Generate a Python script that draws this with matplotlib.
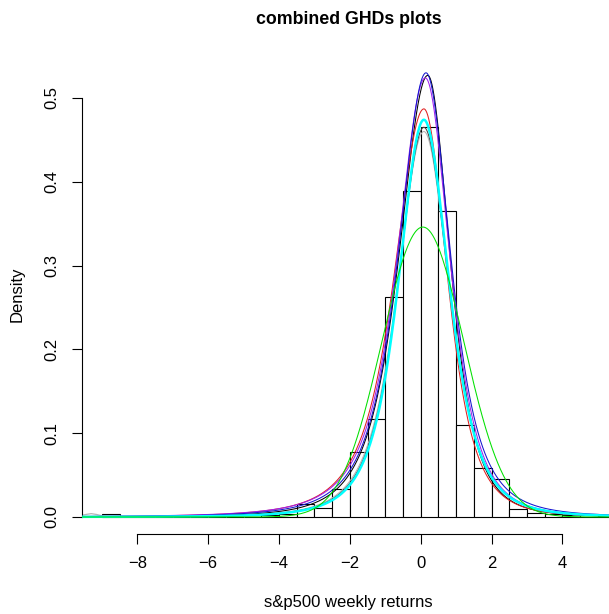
import numpy as np
import matplotlib
matplotlib.use("Agg")
import matplotlib.pyplot as plt

plt.rcParams['font.family'] = ['Liberation Sans', 'DejaVu Sans']

# histogram of weekly returns (density per 0.5 bin, first bin starts at -9)
bin_start = -9.0
bin_width = 0.5
bin_density = [0.003, 0, 0, 0, 0, 0, 0, 0, 0,
               0.002, 0.003, 0.016, 0.011, 0.033, 0.077, 0.117, 0.262,
               0.389, 0.465, 0.365, 0.110, 0.058, 0.045, 0.010, 0.005,
               0.004, 0.002, 0.003, 0.001]

# fitted densities as (mode, peak, left/right scale, left/right tail df)
fit_colors = ['#b4b4b4', '#444444', 'black', '#e02020', '#a020f0', '#1515d0', 'cyan', '#00e000']
fit_widths = [0.75, 0.75, 0.75, 0.75, 0.75, 0.75, 1.8, 0.75]
fit_mode = [0.09, 0.09, 0.20, 0.09, 0.13, 0.15, 0.09, 0.06]
fit_peak = [0.460, 0.465, 0.527, 0.487, 0.524, 0.530, 0.474, 0.346]
fit_scale_left = [0.80, 0.78, 0.86, 0.90, 0.86, 0.84, 0.76, 1.153]
fit_scale_right = [0.76, 0.76, 0.66, 0.70, 0.73, 0.74, 0.75, 1.153]
fit_df_left = [3, 3, 3, 2.5, 2.3, 2.5, 3, 1e6]
fit_df_right = [3, 3, 3, 3, 3, 2.6, 3, 1e6]

# light grey kernel estimate, visible only at the far ends
kde_left_x = [-9.57, -9.45, -9.3, -9.15, -9.0, -8.85, -8.6]
kde_left_y = [0.002, 0.003, 0.004, 0.003, 0.0015, 0.0007, 0.0003]
kde_right_x = [4.3, 4.5, 4.75, 5.0, 5.3, 5.51]
kde_right_y = [0.001, 0.002, 0.003, 0.002, 0.001, 0.0005]


def two_piece_t(x, m, h, sl, sr, nl, nr):
    s = np.where(x < m, sl, sr)
    nu = np.where(x < m, nl, nr)
    return h * (1 + ((x - m) / s) ** 2 / nu) ** (-(nu + 1) / 2)


fig = plt.figure(figsize=(6.09, 6.14), dpi=100)
ax = fig.add_axes([81.5 / 609, 1 - 534 / 614, 534.5 / 609, 479 / 614])
xmin, xmax = -9.574, 5.512
ax.set_xlim(xmin, xmax)
ax.set_ylim(-0.0203, 0.5513)

lefts = bin_start + bin_width * np.arange(len(bin_density))
ax.bar(lefts, bin_density, width=bin_width, align='edge', color='white',
       edgecolor='black', linewidth=0.8, zorder=1)

xs = np.linspace(xmin, xmax, 1200)
for i in range(len(fit_colors)):
    ys = two_piece_t(xs, fit_mode[i], fit_peak[i], fit_scale_left[i],
                     fit_scale_right[i], fit_df_left[i], fit_df_right[i])
    ax.plot(xs, ys, color=fit_colors[i], lw=fit_widths[i], zorder=2 + i)
ax.plot(kde_left_x, kde_left_y, color='#b4b4b4', lw=0.9, zorder=2)
ax.plot(kde_right_x, kde_right_y, color='#b4b4b4', lw=0.9, zorder=2)

for s in ['top', 'right']:
    ax.spines[s].set_visible(False)
ax.spines['bottom'].set_bounds(-8, 4)
ax.spines['left'].set_bounds(0, 0.5)
for s in ['bottom', 'left']:
    ax.spines[s].set_linewidth(0.8)

ax.set_xticks(range(-8, 5, 2))
ax.set_yticks(np.arange(0, 0.51, 0.1))
ax.set_yticklabels(['0.0', '0.1', '0.2', '0.3', '0.4', '0.5'],
                   rotation=90, va='center')
ax.tick_params(axis='both', direction='out', length=7, width=0.8, labelsize=12)
ax.tick_params(axis='x', pad=9)
ax.tick_params(axis='y', pad=9)

fig.text(348.75 / 609, 1 - 20 / 614, 'combined GHDs plots', ha='center',
         va='center', fontsize=12.8, fontweight='bold')
fig.text(348.75 / 609, 1 - 602 / 614, 's&p500 weekly returns', ha='center',
         va='center', fontsize=12)
fig.text(17 / 609, 1 - 294 / 614, 'Density', ha='center', va='center',
         rotation=90, fontsize=12)

fig.savefig('out.png', dpi=100)
